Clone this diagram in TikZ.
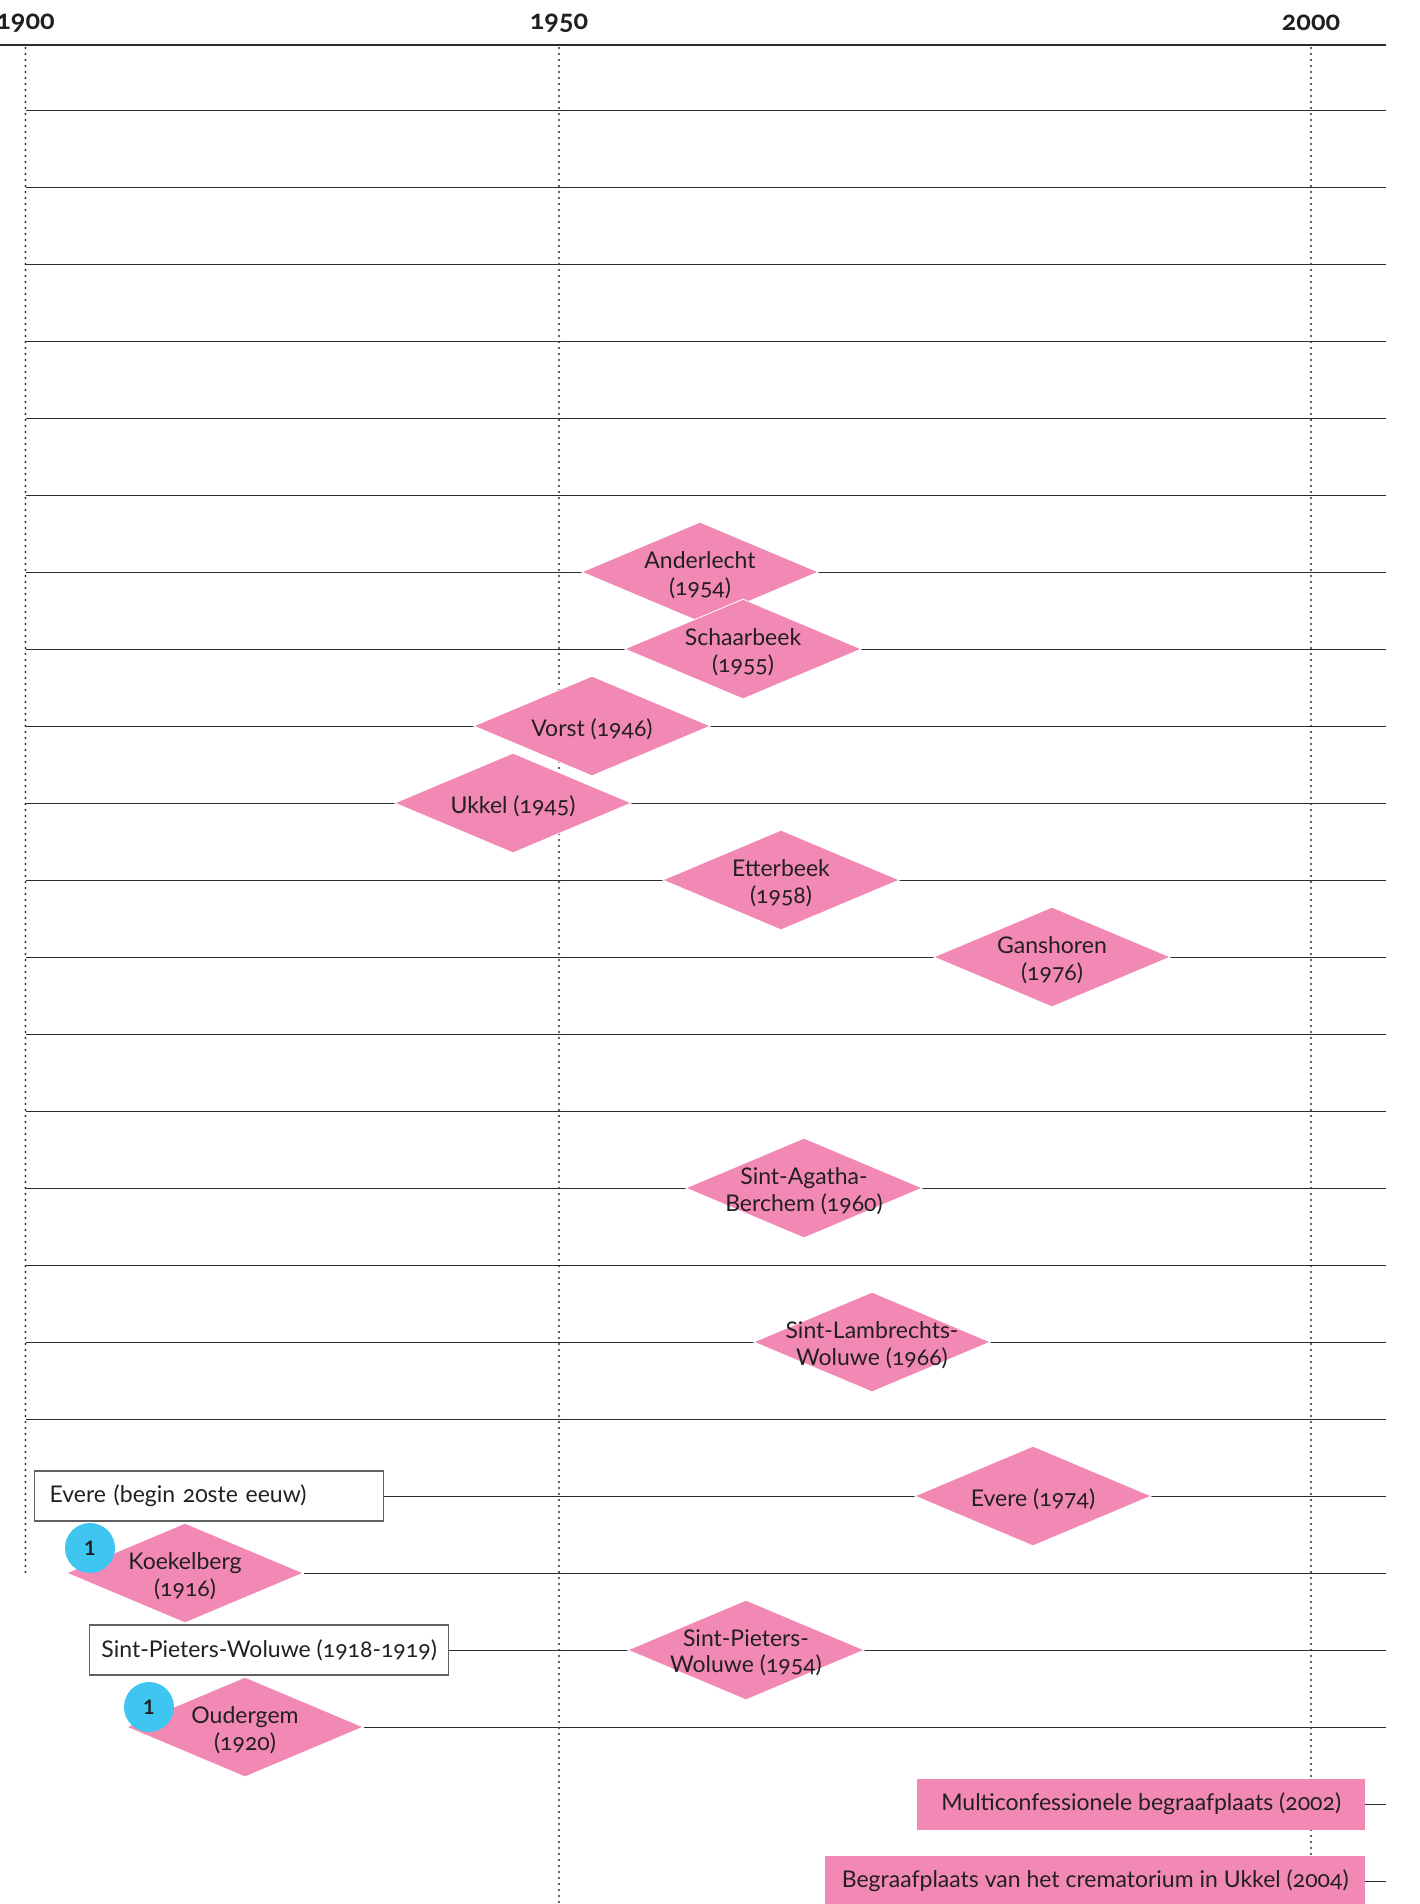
\documentclass[tikz,border=0pt]{standalone}
\usepackage{fontspec}
\setmainfont{Lato}[Numbers=OldStyle]
\usetikzlibrary{shapes.geometric,backgrounds}
\definecolor{pinkf}{RGB}{242,137,181}
\definecolor{bluec}{RGB}{62,198,240}
\definecolor{linec}{RGB}{45,45,45}
\definecolor{txt}{RGB}{35,31,32}
\begin{document}
\begin{tikzpicture}[x=1pt,y=-1pt,
  rowline/.style={draw=linec, line width=1pt},
  axisline/.style={draw=linec, line width=2.4pt},
  dotline/.style={draw=linec, line width=2.2pt, dash pattern=on 0pt off 6pt, line cap=round},
  diam/.style={diamond, fill=pinkf, draw=white, line width=0.8pt, minimum width=237pt, minimum height=100pt, inner sep=0pt},
  dlab/.style={font=\fontsize{23}{26.5}\selectfont, text=txt, align=center, yshift=-3pt},
  wbox/.style={draw=linec!75, line width=1.2pt, fill=white, minimum height=50pt, inner xsep=0pt, inner ysep=0pt, text=txt, font=\fontsize{23}{26}\selectfont},
  pbox/.style={fill=pinkf, minimum height=51pt, inner xsep=0pt, inner ysep=0pt, text=txt, font=\fontsize{23}{26}\selectfont},
  badge/.style={circle, fill=bluec, minimum size=50pt, inner sep=0pt, text=txt, font=\bfseries\fontsize{20}{24}\selectfont\addfontfeatures{Numbers=Lining}},
  yearlab/.style={font=\bfseries\fontsize{27}{30}\selectfont, text=txt}
]
\useasboundingbox (0,0) rectangle (1420,1904);

% year labels
\node[yearlab] (y1900) at (25.5,23) {1900};
\node[yearlab] (y1950) at (559,23) {1950};
\node[yearlab] (y2000) at (1311,23) {2000};

% diamonds
\newcommand{\dm}[4]{\node[diam, label={[dlab]center:#4}] (#1) at (#2,#3) {};}
\dm{ander}{700}{572}{Anderlecht\\(1954)}
\dm{schaar}{743}{649}{Schaarbeek\\(1955)}
\dm{vorst}{592}{726}{Vorst (1946)}
\dm{ukkel}{513}{803}{Ukkel (1945)}
\dm{etter}{781}{880}{Etterbeek\\(1958)}
\dm{gansh}{1052}{957}{Ganshoren\\(1976)}
\dm{berchem}{804}{1188}{Sint-Agatha-\\Berchem (1960)}
\dm{lambr}{872}{1342}{Sint-Lambrechts-\\Woluwe (1966)}
\dm{evere}{1033}{1496}{Evere (1974)}
\dm{koek}{185}{1573}{Koekelberg\\(1916)}
\dm{spw}{746}{1650}{Sint-Pieters-\\Woluwe (1954)}
\dm{oud}{245}{1727}{Oudergem\\(1920)}

% boxes
\node[wbox, anchor=west, minimum width=349pt, text width=319pt, inner xsep=15pt, align=left] (everebox) at (34,1496) {Evere (begin 20ste eeuw)};
\node[wbox, anchor=west, minimum width=359pt] (spwbox) at (89,1650) {Sint-Pieters-Woluwe (1918-1919)};
\node[pbox, anchor=west, minimum width=448pt] (multi) at (917,1804) {Multiconfessionele begraafplaats (2002)};
\node[pbox, anchor=west, minimum width=540pt] (begr) at (825,1881) {Begraafplaats van het crematorium in Ukkel (2004)};

% badges
\node[badge] (b1) at (90,1548) {1};
\node[badge] (b2) at (149,1707) {1};

\begin{scope}[on background layer]
  \fill[white] (0,0) rectangle (1420,1904);
  \coordinate (axL) at (0,45);
  \coordinate (axR) at (1386,45);
  \foreach \k in {0,...,23} {
    \coordinate (rL\k) at (25.5,{110+77*\k});
    \coordinate (rR\k) at (1386,{110+77*\k});
  }
  \foreach \k in {0,...,17} { \draw[rowline] (rL\k) -- (rR\k); }
  \draw[rowline] (everebox.east) -- (rR18);
  \draw[rowline] (koek.east) -- (rR19);
  \draw[rowline] (spwbox.east) -- (rR20);
  \draw[rowline] (oud.east) -- (rR21);
  \draw[rowline] (multi.east) -- (rR22);
  \draw[rowline] (begr.east) -- (rR23);
  \coordinate (d00a) at (25.5,48);
  \coordinate (d00b) at (25.5,1573);
  \coordinate (d50a) at (559,48);
  \coordinate (d50b) at (559,1904);
  \coordinate (d99a) at (1311,48);
  \coordinate (d99b) at (1311,1904);
  \draw[dotline] (d00a) -- (d00b);
  \draw[dotline] (d50a) -- (d50b);
  \draw[dotline] (d99a) -- (d99b);
  \draw[axisline] (axL) -- (axR);
\end{scope}
\end{tikzpicture}
\end{document}
